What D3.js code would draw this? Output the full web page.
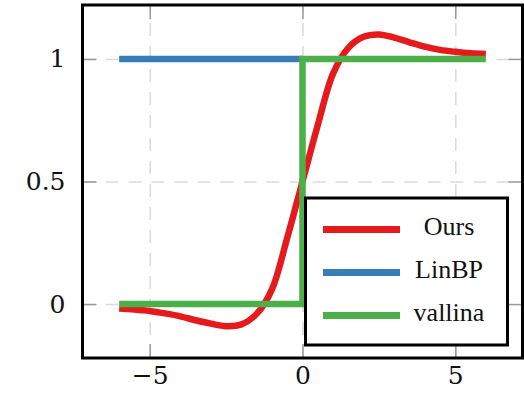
<!DOCTYPE html>
<html>
<head>
<meta charset="utf-8">
<script src="https://cdn.jsdelivr.net/npm/d3@7"></script>
<style>
  html, body { margin: 0; padding: 0; background: #fff; }
  svg { display: block; }
</style>
</head>
<body>
<div id="chart-container"></div>
<script>
// series data
const oursX = [-6, -5.5, -5, -4.5, -4, -3.5, -3, -2.5, -2, -1.5, -1, -0.5, 0, 0.5, 1, 1.5, 2, 2.5, 3, 3.5, 4, 4.5, 5, 5.5, 6];
const oursY = [-0.018, -0.022, -0.028, -0.038, -0.05, -0.066, -0.08, -0.09, -0.083, -0.04, 0.06, 0.27, 0.5, 0.73, 0.94, 1.045, 1.09, 1.1, 1.087, 1.068, 1.05, 1.037, 1.029, 1.023, 1.02];
const linbpX = [-6, 0];
const linbpY = [1, 1];
const vallinaX = [-6, 0, 0, 6];
const vallinaY = [0, 0, 1, 1];

const seriesNames = ["Ours", "LinBP", "vallina"];
const seriesColors = ["#e41a1c", "#377eb8", "#4daf4a"];

const xTicks = [-5, 0, 5];
const yTicks = [0, 0.5, 1];

function drawChart() {
    const W = 524, H = 395;
    const left = 82.5, right = 522.5, top = 5, bottom = 358;

    const svg = d3.select("#chart-container")
        .append("svg")
        .attr("width", W)
        .attr("height", H);

    // scales (axis limits enlarged 10% like pgfplots)
    const x = d3.scaleLinear().domain([-7.2, 7.2]).range([left, right]);
    const y = d3.scaleLinear().domain([-0.22, 1.22]).range([bottom, top]);

    const fmt = d => d < 0 ? "\u2212" + (-d) : String(d);

    // dashed grid
    const grid = svg.append("g").attr("class", "grid");
    grid.append("g")
        .attr("transform", `translate(0,${bottom})`)
        .call(d3.axisBottom(x).tickValues(xTicks).tickSize(-(bottom - top)).tickFormat(""));
    grid.append("g")
        .attr("transform", `translate(${left},0)`)
        .call(d3.axisLeft(y).tickValues(yTicks).tickSize(-(right - left)).tickFormat(""));
    grid.selectAll(".domain").remove();
    grid.selectAll("line")
        .attr("stroke", "#dcdcdc")
        .attr("stroke-width", 1.6)
        .attr("stroke-dasharray", "13,10");

    // inner tick marks on all four sides
    const tickLen = 14;
    const marks = svg.append("g").attr("class", "marks");
    marks.append("g").attr("transform", `translate(0,${bottom})`)
        .call(d3.axisBottom(x).tickValues(xTicks).tickSize(-tickLen).tickFormat(""));
    marks.append("g").attr("transform", `translate(0,${top})`)
        .call(d3.axisTop(x).tickValues(xTicks).tickSize(-tickLen).tickFormat(""));
    marks.append("g").attr("transform", `translate(${left},0)`)
        .call(d3.axisLeft(y).tickValues(yTicks).tickSize(-tickLen).tickFormat(""));
    marks.append("g").attr("transform", `translate(${right},0)`)
        .call(d3.axisRight(y).tickValues(yTicks).tickSize(-tickLen).tickFormat(""));
    marks.selectAll(".domain").remove();
    marks.selectAll("line").attr("stroke", "#9a9a9a").attr("stroke-width", 1.5);

    // tick labels
    const labels = svg.append("g").attr("class", "labels");
    labels.append("g").attr("transform", `translate(0,${bottom})`)
        .call(d3.axisBottom(x).tickValues(xTicks).tickSize(0).tickPadding(8).tickFormat(fmt));
    labels.append("g").attr("transform", `translate(${left},0)`)
        .call(d3.axisLeft(y).tickValues(yTicks).tickSize(0).tickPadding(17).tickFormat(fmt));
    labels.selectAll(".domain").remove();
    labels.selectAll("text")
        .attr("fill", "#111")
        .style("font-family", "'DejaVu Serif', serif")
        .style("font-size", "25px");

    // series lines, drawn in legend order
    const smooth = d3.line().x(d => x(d[0])).y(d => y(d[1])).curve(d3.curveCatmullRom.alpha(0.5));
    const straight = d3.line().x(d => x(d[0])).y(d => y(d[1]));

    const series = [
        { pts: d3.zip(oursX, oursY), gen: smooth },
        { pts: d3.zip(linbpX, linbpY), gen: straight },
        { pts: d3.zip(vallinaX, vallinaY), gen: straight },
    ];

    svg.append("g")
        .selectAll("path")
        .data(series)
        .enter()
        .append("path")
        .attr("d", d => d.gen(d.pts))
        .attr("fill", "none")
        .attr("stroke", (d, i) => seriesColors[i])
        .attr("stroke-width", 6.5)
        .attr("stroke-linejoin", "miter");

    // frame
    svg.append("rect")
        .attr("x", left).attr("y", top)
        .attr("width", right - left).attr("height", bottom - top)
        .attr("fill", "none")
        .attr("stroke", "#000")
        .attr("stroke-width", 3);

    // legend
    const lg = svg.append("g").attr("class", "legend");
    lg.append("rect")
        .attr("x", 305.5).attr("y", 198)
        .attr("width", 202).attr("height", 147)
        .attr("fill", "#fff")
        .attr("stroke", "#000")
        .attr("stroke-width", 3);

    const rows = lg.selectAll("g.row")
        .data(seriesNames)
        .enter()
        .append("g")
        .attr("class", "row")
        .attr("transform", (d, i) => `translate(0,${229.5 + i * 43})`);

    rows.append("line")
        .attr("x1", 323).attr("x2", 400)
        .attr("y1", 0).attr("y2", 0)
        .attr("stroke", (d, i) => seriesColors[i])
        .attr("stroke-width", 7);

    rows.append("text")
        .attr("x", 449)
        .attr("y", 5)
        .attr("text-anchor", "middle")
        .style("font-family", "'Liberation Serif', 'Times New Roman', serif")
        .style("font-size", "26px")
        .attr("fill", "#111")
        .text(d => d);
}

window.onload = () => {
    drawChart();
};
</script>
</body>
</html>
